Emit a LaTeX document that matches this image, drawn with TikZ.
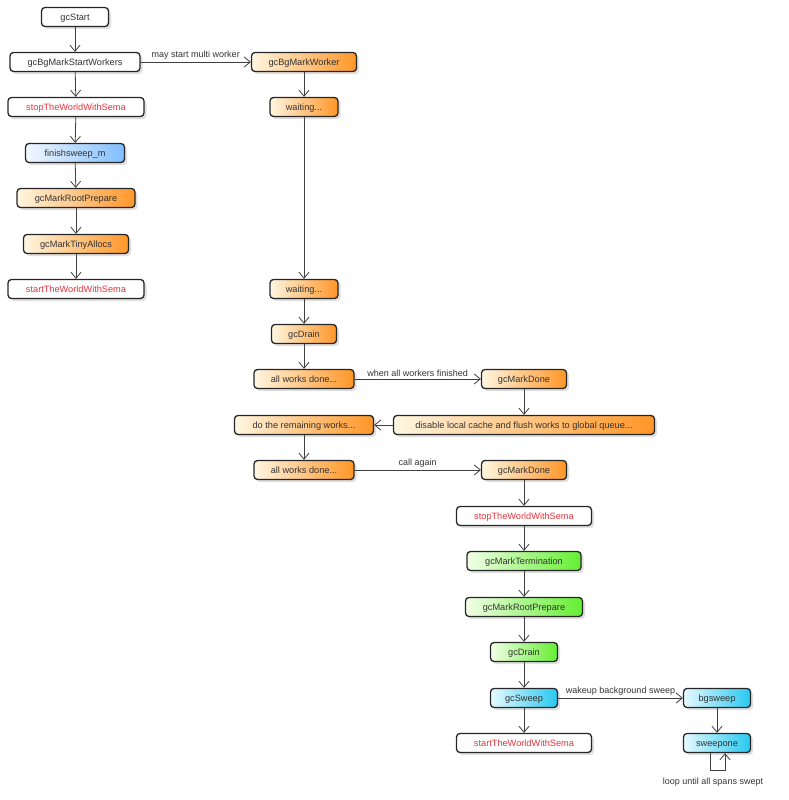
\documentclass[tikz,border=0pt]{standalone}
\usepackage{fontspec}
\setmainfont{Liberation Sans}
\usetikzlibrary{arrows.meta,shadows}
\definecolor{redtxt}{RGB}{232,52,60}
\definecolor{orL}{RGB}{255,246,225}
\definecolor{orR}{RGB}{255,150,40}
\definecolor{blL}{RGB}{242,248,255}
\definecolor{blR}{RGB}{128,190,255}
\definecolor{grL}{RGB}{242,255,232}
\definecolor{grR}{RGB}{100,238,50}
\definecolor{cyL}{RGB}{230,250,255}
\definecolor{cyR}{RGB}{40,200,240}
\begin{document}
\begin{tikzpicture}[x=1pt,y=-1pt,
  box/.style={draw=black!85, line width=1.3pt, rounded corners=3.5pt, minimum height=19pt,
    inner sep=0pt, text height=7.5pt, text depth=0pt, font=\fontsize{9.2}{10}\selectfont, text=black!80,
    drop shadow={shadow xshift=2.5pt,shadow yshift=-2.5pt,fill=black!25,opacity=0.5}},
  wbox/.style={box, fill=white},
  rbox/.style={box, fill=white, text=redtxt},
  obox/.style={box, left color=orL, right color=orR},
  bbox/.style={box, left color=blL, right color=blR},
  gbox/.style={box, left color=grL, right color=grR},
  cbox/.style={box, left color=cyL, right color=cyR},
  arr/.style={draw=black!75, line width=0.8pt, -{Straight Barb[length=6pt,width=10pt]}},
  lab/.style={font=\fontsize{9}{10}\selectfont, text=black!80, inner sep=0pt}
]
\useasboundingbox (0,0) rectangle (788,800);
% left column
\node[wbox, minimum width=67pt]  (start) at (75,17) {gcStart};
\node[wbox, minimum width=130pt] (bgsw)  at (75,62) {gcBgMarkStartWorkers};
\node[rbox, minimum width=136pt] (stw1)  at (76,107) {stopTheWorldWithSema};
\node[bbox, minimum width=99pt]  (fin)   at (75,153) {finishsweep\_m};
\node[obox, minimum width=118pt] (mrp1)  at (76,198) {gcMarkRootPrepare};
\node[obox, minimum width=105pt] (mta)   at (76,244) {gcMarkTinyAllocs};
\node[rbox, minimum width=136pt] (sttw1) at (76,289) {startTheWorldWithSema};
% worker column
\node[obox, minimum width=105pt] (wrk)   at (304,62) {gcBgMarkWorker};
\node[obox, minimum width=68pt]  (wait1) at (304,107) {waiting...};
\node[obox, minimum width=68pt]  (wait2) at (304,289) {waiting...};
\node[obox, minimum width=65pt]  (drn1)  at (304,334) {gcDrain};
\node[obox, minimum width=100pt] (awd1)  at (304,379) {all works done...};
\node[obox, minimum width=139pt] (rem)   at (304,425) {do the remaining works...};
\node[obox, minimum width=100pt] (awd2)  at (304,470) {all works done...};
% right column
\node[obox, minimum width=85pt]  (md1)   at (524,379) {gcMarkDone};
\node[obox, minimum width=261pt] (dis)   at (524,425) {disable local cache and flush works to global queue...};
\node[obox, minimum width=85pt]  (md2)   at (524,470) {gcMarkDone};
\node[rbox, minimum width=135pt] (stw2)  at (524,516) {stopTheWorldWithSema};
\node[gbox, minimum width=114pt] (mt)    at (524,561) {gcMarkTermination};
\node[gbox, minimum width=117pt] (mrp2)  at (524,607) {gcMarkRootPrepare};
\node[gbox, minimum width=67pt]  (drn2)  at (524,652) {gcDrain};
\node[cbox, minimum width=67pt]  (swp)   at (524,698) {gcSweep};
\node[rbox, minimum width=135pt] (sttw2) at (524,743) {startTheWorldWithSema};
\node[cbox, minimum width=67pt]  (bgs)   at (717,698) {bgsweep};
\node[cbox, minimum width=67pt]  (one)   at (717,743) {sweepone};
% edges
\draw[arr] (start) -- (bgsw);
\draw[arr] (bgsw) -- (stw1);
\draw[arr] (stw1) -- (fin);
\draw[arr] (fin) -- (mrp1);
\draw[arr] (mrp1) -- (mta);
\draw[arr] (mta) -- (sttw1);
\draw[arr] (bgsw) -- node[lab, above=2pt] {may start multi worker} (wrk);
\draw[arr] (wrk) -- (wait1);
\draw[arr] (wait1) -- (wait2);
\draw[arr] (wait2) -- (drn1);
\draw[arr] (drn1) -- (awd1);
\draw[arr] (awd1) -- node[lab, above=2pt] {when all workers finished} (md1);
\draw[arr] (md1) -- (dis);
\draw[arr] (dis) -- (rem);
\draw[arr] (rem) -- (awd2);
\draw[arr] (awd2) -- node[lab, above=2pt] {call again} (md2);
\draw[arr] (md2) -- (stw2);
\draw[arr] (stw2) -- (mt);
\draw[arr] (mt) -- (mrp2);
\draw[arr] (mrp2) -- (drn2);
\draw[arr] (drn2) -- (swp);
\draw[arr] (swp) -- (sttw2);
\draw[arr] (swp) -- node[lab, above=2pt] {wakeup background sweep} (bgs);
\draw[arr] (bgs) -- (one);
\coordinate (lp) at (717,770);
\draw[arr] ([xshift=-7pt]one.south) |- (lp) -| ([xshift=8pt]one.south);
\node[lab] (lplab) at (713,782) {loop until all spans swept};
\end{tikzpicture}
\end{document}
